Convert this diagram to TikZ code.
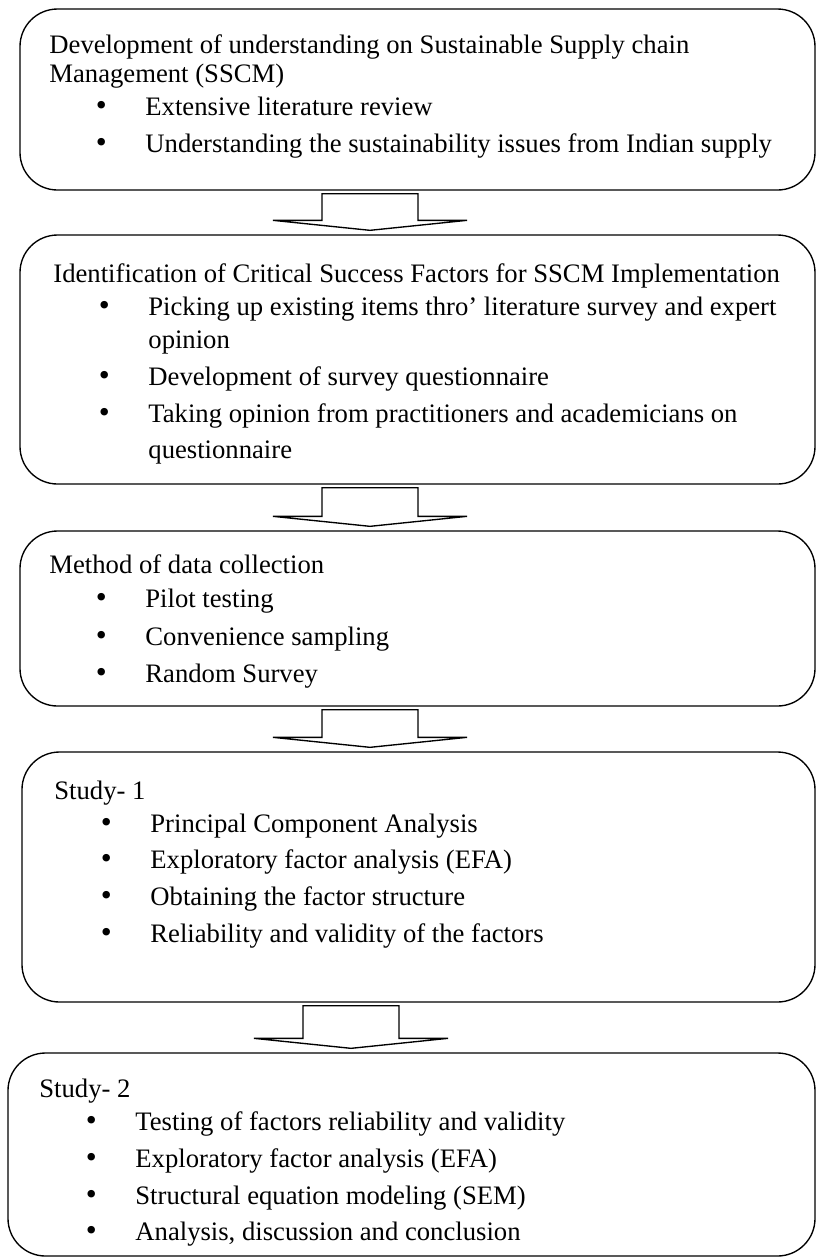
\documentclass[tikz,border=0pt]{standalone}
\usepackage{fontspec}
\setmainfont{Liberation Serif}
\usetikzlibrary{positioning, fit, calc}

\newcommand{\bul}{\llap{{\fontsize{15pt}{15pt}\selectfont\textbullet}\hspace{18.5pt}}}

\tikzset{
    stagebox/.style={draw, rectangle, rounded corners=18pt, line width=0.65pt, inner sep=0pt},
    line/.style={anchor=base west, inner sep=0pt, font=\fontsize{12.8pt}{14pt}\selectfont},
    fatarrow/.style={draw, line width=0.65pt, fill=white, line join=miter}
}

\begin{document}
\begin{tikzpicture}[x=0.48pt, y=-0.48pt]
    \useasboundingbox (0,0) rectangle (819,1260);

    % stage boxes
    \node[stagebox, fit={(20,9) (815,190)}] (box1) {};
    \node[stagebox, fit={(20,235) (815,484)}] (box2) {};
    \node[stagebox, fit={(20,531) (815,706)}] (box3) {};
    \node[stagebox, fit={(22,752) (815,1002)}] (box4) {};
    \node[stagebox, fit={(8,1053) (815,1256)}] (box5) {};

    % box 1
    \node[line] (head1) at (49,53) {Development of understanding on Sustainable Supply chain};
    \node[line] (head1b) at (49,82) {Management (SSCM)};
    \foreach \t/\y [count=\i] in {{\bul Extensive literature review}/115,
        {\bul Understanding the sustainability issues from Indian supply}/152}
        \node[line] (item1-\i) at (145,\y) {\t};

    % box 2
    \node[line] (head2) at (53,282) {Identification of Critical Success Factors for SSCM Implementation};
    \foreach \t/\y [count=\i] in {{\bul Picking up existing items thro’ literature survey and expert}/315,
        {opinion}/348,
        {\bul Development of survey questionnaire}/385,
        {\bul Taking opinion from practitioners and academicians on}/422,
        {questionnaire}/458}
        \node[line] (item2-\i) at (148,\y) {\t};

    % box 3
    \node[line] (head3) at (49,573) {Method of data collection};
    \foreach \t/\y [count=\i] in {{Pilot testing}/607, {Convenience sampling}/645, {Random Survey}/682}
        \node[line] (item3-\i) at (145,\y) {\bul\t};

    % box 4
    \node[line] (head4) at (54,799) {Study- 1};
    \foreach \t/\y [count=\i] in {{Principal Component Analysis}/832,
        {Exploratory factor analysis (EFA)}/868,
        {Obtaining the factor structure}/905,
        {Reliability and validity of the factors}/942}
        \node[line] (item4-\i) at (150,\y) {\bul\t};

    % box 5
    \node[line] (head5) at (39,1097) {Study- 2};
    \foreach \t/\y [count=\i] in {{Testing of factors reliability and validity}/1130,
        {Exploratory factor analysis (EFA)}/1167,
        {Structural equation modeling (SEM)}/1204,
        {Analysis, discussion and conclusion}/1240}
        \node[line] (item5-\i) at (135,\y) {\bul\t};

    % block arrows between the boxes
    \foreach \a/\b/\x in {box1/box2/370, box2/box3/370, box3/box4/370, box4/box5/351}{
        \coordinate (arrtop) at ($(\a.south -| \x,0)+(0,3)$);
        \coordinate (arrtip) at ($(\b.north -| \x,0)+(0,-4)$);
        \draw[fatarrow] ($(arrtop)+(-48,0)$) |- ($(arrtip)+(-97,-10)$) -- (arrtip)
            -- ($(arrtip)+(97,-10)$) -| ($(arrtop)+(48,0)$) -- cycle;
    }
\end{tikzpicture}
\end{document}
